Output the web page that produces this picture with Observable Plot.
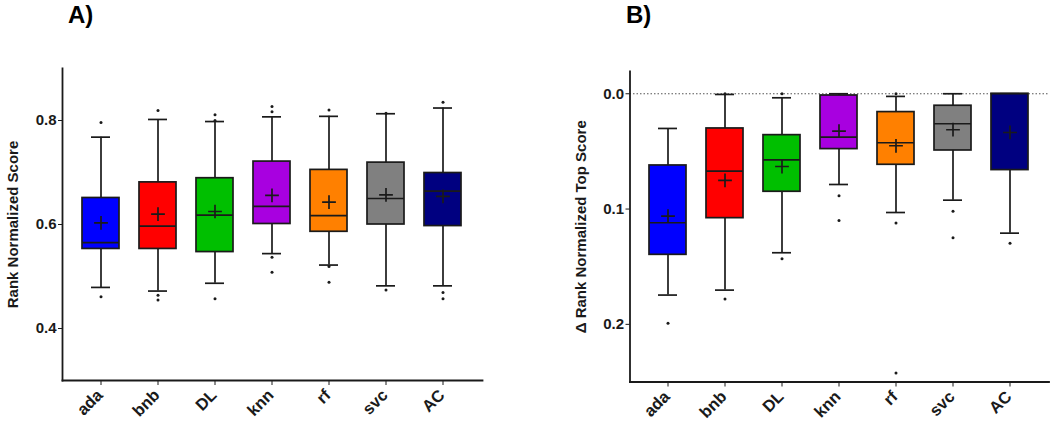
<!DOCTYPE html>
<html>
<head>
<meta charset="utf-8">
<script src="https://cdn.jsdelivr.net/npm/d3@7"></script>
<script src="https://cdn.jsdelivr.net/npm/@observablehq/plot@0.6"></script>
<style>
  html, body { margin: 0; padding: 0; background: #fff; }
  #wrap { position: relative; width: 1050px; height: 427px; overflow: hidden; font-family: "Liberation Sans", Arial, sans-serif; }
  .panel { position: absolute; top: 0; }
  .tag { position: absolute; top: 2px; font-size: 24px; font-weight: bold; line-height: 26px; color: #000; z-index: 2; }
</style>
</head>
<body>
<div id="wrap">
  <div class="tag" style="left:68px">A)</div>
  <div class="tag" style="left:626px">B)</div>
  <div id="pa" class="panel" style="left:0px"></div>
  <div id="pb" class="panel" style="left:525px"></div>
</div>
<script>
// ---- categories & colours ----
const categories = ["ada", "bnb", "DL", "knn", "rf", "svc", "AC"];
const colors = ["#0000FF", "#FF0000", "#00BF00", "#A800E0", "#FF8000", "#808080", "#000080"];

// ---- Panel A: Rank Normalized Score ----
const scoreQ1 = [0.553, 0.553, 0.547, 0.601, 0.586, 0.600, 0.597];
const scoreMedian = [0.565, 0.597, 0.618, 0.635, 0.617, 0.650, 0.664];
const scoreQ3 = [0.651, 0.681, 0.689, 0.721, 0.705, 0.719, 0.699];
const scoreMean = [0.603, 0.620, 0.625, 0.656, 0.643, 0.657, 0.654];
const scoreWhiskerLow = [0.479, 0.472, 0.487, 0.544, 0.522, 0.482, 0.482];
const scoreWhiskerHigh = [0.768, 0.802, 0.798, 0.807, 0.808, 0.813, 0.824];
const scoreOutlierCats = ["ada", "ada", "bnb", "bnb", "bnb", "DL", "DL", "DL", "knn", "knn", "knn", "knn", "rf", "rf", "rf", "svc", "svc", "AC", "AC", "AC"];
const scoreOutlierVals = [0.796, 0.461, 0.819, 0.464, 0.455, 0.811, 0.800, 0.457, 0.827, 0.817, 0.537, 0.508, 0.820, 0.519, 0.489, 0.814, 0.474, 0.835, 0.469, 0.457];
const scoreTicks = [0.4, 0.6, 0.8];

// ---- Panel B: Δ Rank Normalized Top Score ----
const deltaQ1 = [0.0622, 0.0301, 0.0359, 0.0015, 0.0159, 0.0104, 0.0];
const deltaMedian = [0.1119, 0.0671, 0.0573, 0.0376, 0.0425, 0.0260, 0.0];
const deltaQ3 = [0.1397, 0.1079, 0.0850, 0.0480, 0.0616, 0.0492, 0.0662];
const deltaMean = [0.1061, 0.0752, 0.0631, 0.0324, 0.0451, 0.0312, 0.0336];
const deltaWhiskerLow = [0.0301, 0.0006, 0.0035, 0.0, 0.0023, 0.0, 0.0];
const deltaWhiskerHigh = [0.1746, 0.1703, 0.1379, 0.0787, 0.1030, 0.0923, 0.1209];
const deltaOutlierCats = ["ada", "bnb", "bnb", "DL", "DL", "knn", "knn", "rf", "rf", "rf", "svc", "svc", "AC"];
const deltaOutlierVals = [0.199, 0.178, 0.0, 0.1431, 0.0, 0.0885, 0.110, 0.1122, 0.2423, 0.0, 0.102, 0.1249, 0.1296];
const deltaTicks = [0.0, 0.1, 0.2];

function boxTable(q1, med, q3, mean, wlo, whi) {
  return categories.map((c, i) => ({cat: c, q1: q1[i], med: med[i], q3: q3[i], mean: mean[i], wlo: wlo[i], whi: whi[i]}));
}
function outlierTable(cats, vals) {
  return cats.map((c, i) => ({cat: c, v: vals[i]}));
}

function panel({stats, outliers, y, ticks, label, margins, extra = []}) {
  const ink = "#1a1a1a";
  return Plot.plot({
    width: 525,
    height: 427,
    ...margins,
    style: {fontFamily: "'Liberation Sans', Arial, sans-serif", fontWeight: "bold", color: ink, background: "transparent", overflow: "visible"},
    x: {domain: categories, paddingInner: 0.343, paddingOuter: 0.334},
    y,
    color: {domain: categories, range: colors},
    marks: [
      ...extra,
      Plot.frame({anchor: "left", stroke: ink, strokeWidth: 1.8}),
      Plot.frame({anchor: "bottom", stroke: ink, strokeWidth: 1.8}),
      Plot.axisY({ticks, tickFormat: d3.format(".1f"), tickSize: 4, tickPadding: 2, fontSize: 15,
                  label, labelAnchor: "center", labelArrow: "none", labelOffset: 55}),
      Plot.axisX({tickSize: 5, tickFormat: () => "", label: null}),
      Plot.text(categories, {x: (d) => d, frameAnchor: "bottom", rotate: -45, textAnchor: "end",
                             lineAnchor: "middle", dx: -1, dy: 12, fontSize: 16.5, fontWeight: "bold", fill: ink}),
      Plot.ruleX(stats, {x: "cat", y1: "wlo", y2: "whi", stroke: ink, strokeWidth: 1.7}),
      Plot.tickY(stats, {x: "cat", y: "wlo", stroke: ink, strokeWidth: 1.7, insetLeft: 9, insetRight: 9}),
      Plot.tickY(stats, {x: "cat", y: "whi", stroke: ink, strokeWidth: 1.7, insetLeft: 9, insetRight: 9}),
      Plot.barY(stats, {x: "cat", y1: "q1", y2: "q3", fill: "cat", stroke: ink, strokeWidth: 1.7}),
      Plot.tickY(stats, {x: "cat", y: "med", stroke: ink, strokeWidth: 1.7}),
      Plot.dot(stats, {x: "cat", y: "mean", symbol: "plus", r: 4.5, stroke: ink, strokeWidth: 1.7}),
      Plot.dot(outliers, {x: "cat", y: "v", r: 1.5, fill: ink, stroke: null})
    ]
  });
}

const plotA = panel({
  stats: boxTable(scoreQ1, scoreMedian, scoreQ3, scoreMean, scoreWhiskerLow, scoreWhiskerHigh),
  outliers: outlierTable(scoreOutlierCats, scoreOutlierVals),
  y: {domain: [0.3, 0.9]},
  ticks: scoreTicks,
  label: "Rank Normalized Score",
  margins: {marginLeft: 62, marginRight: 43, marginTop: 68, marginBottom: 47}
});
document.getElementById("pa").appendChild(plotA);

const plotB = panel({
  stats: boxTable(deltaQ1, deltaMedian, deltaQ3, deltaMean, deltaWhiskerLow, deltaWhiskerHigh),
  outliers: outlierTable(deltaOutlierCats, deltaOutlierVals),
  y: {domain: [-0.0193, 0.25], reverse: true},
  ticks: deltaTicks,
  label: "\u0394 Rank Normalized Top Score",
  margins: {marginLeft: 104.5, marginRight: 1.5, marginTop: 71, marginBottom: 45.5},
  extra: [Plot.ruleY([0], {stroke: "#555", strokeWidth: 1.2, strokeDasharray: "1.5,2"})]
});
document.getElementById("pb").appendChild(plotB);
</script>
</body>
</html>
